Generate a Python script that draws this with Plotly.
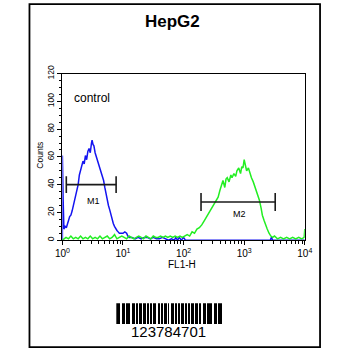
import math
import plotly.graph_objects as go

# ---------------- data ----------------
# positions are in decades of FL1-H (10**pos), counts on the y axis
blue_pos = [0.000, 0.000, 0.012, 0.025, 0.045, 0.065, 0.085, 0.100, 0.120, 0.140, 0.160, 0.180,
            0.200, 0.220, 0.240, 0.260, 0.280, 0.300, 0.320, 0.340, 0.360, 0.380, 0.400,
            0.420, 0.440, 0.460, 0.480, 0.490, 0.505, 0.520, 0.540, 0.560, 0.580, 0.600,
            0.620, 0.640, 0.660, 0.680, 0.700, 0.720, 0.740, 0.760, 0.780, 0.800, 0.820,
            0.840, 0.860, 0.880, 0.900, 0.920, 0.940, 0.970, 1.000, 1.030, 1.060, 1.080,
            1.100, 1.150, 1.200, 1.250, 1.300, 1.350, 1.400, 1.450, 1.500, 1.550, 1.600,
            1.650, 1.700, 1.750, 1.800, 1.850, 1.870, 1.900, 1.930, 1.960, 2.000, 2.030,
            2.200, 2.500, 3.000, 3.430, 3.450, 3.470, 3.700, 4.000]
blue_cnt = [0, 61, 30, 8, 10, 9, 13, 14, 17, 18, 21, 25,
            29, 33, 36, 40, 47, 50, 54, 57, 55, 61, 58,
            64, 66, 63, 70, 72, 69, 68, 63, 60, 58, 55,
            52, 49, 45, 43, 38, 33, 29, 25, 22, 18, 15,
            12, 10, 8, 7, 6, 5, 5, 5, 6, 5, 3,
            2, 2, 1, 2, 1, 2, 2, 1, 2, 1, 1,
            2, 1, 0, 1, 0, 2, 0, 2, 0, 2, 0,
            0, 0, 0, 0, 2, 0, 0, 0]

green_pos = [0.00, 0.03, 0.06, 0.10, 0.14, 0.18, 0.22, 0.26, 0.30, 0.34, 0.38, 0.42, 0.46,
             0.50, 0.54, 0.58, 0.62, 0.66, 0.70, 0.74, 0.78, 0.82, 0.86, 0.90, 0.94, 0.98,
             1.02, 1.06, 1.10, 1.14, 1.18, 1.22, 1.26, 1.30, 1.34, 1.38, 1.42, 1.46, 1.50,
             1.54, 1.58, 1.62, 1.66, 1.70, 1.74, 1.78, 1.82, 1.86, 1.90, 1.94, 1.98, 2.02,
             2.06, 2.10, 2.14, 2.18, 2.22, 2.26, 2.30, 2.34, 2.38, 2.42, 2.46, 2.50, 2.54,
             2.57, 2.60, 2.63, 2.65, 2.68, 2.70, 2.72, 2.75, 2.78, 2.80, 2.83, 2.86, 2.88,
             2.91, 2.94, 2.96, 2.98, 3.00, 3.02, 3.04, 3.07, 3.10, 3.12, 3.15, 3.18, 3.20,
             3.23, 3.25, 3.28, 3.30, 3.33, 3.35, 3.38, 3.41, 3.44, 3.47, 3.50, 3.55, 3.60,
             3.65, 3.70, 3.75, 3.80, 3.85, 3.90, 3.95, 3.99, 4.00]
green_cnt = [0, 1, 2, 1, 3, 1, 2, 1, 3, 1, 2, 1, 3,
             1, 2, 1, 3, 1, 2, 3, 1, 2, 4, 1, 2, 3,
             2, 1, 3, 2, 1, 2, 3, 2, 1, 3, 2, 1, 3,
             2, 2, 3, 2, 3, 2, 3, 2, 3, 2, 3, 2, 3,
             4, 3, 6, 5, 8, 9, 11, 14, 17, 19, 23, 25, 28,
             31, 36, 41, 43, 38, 44, 45, 42, 47, 45, 48, 46, 50,
             52, 48, 53, 52, 58, 54, 50, 52, 47, 45, 42, 38, 36,
             32, 29, 23, 18, 14, 11, 8, 5, 3, 2, 3, 1, 2,
             1, 2, 1, 2, 1, 2, 1, 2, 8]

# gate markers: (low, high, level, cap half-height)
m1_gate = [1.16, 7.7, 40, 6]
m2_gate = [194, 3250, 27.5, 6.5]
m1_label = [3.2, 28.5]
m2_label = [850, 19]
control_label = [1.42, 102.5]

x_ticks = [1, 10, 100, 1000, 10000]
x_ticktext = ["10<sup>0</sup>", "10<sup>1</sup>", "10<sup>2</sup>", "10<sup>3</sup>", "10<sup>4</sup>"]
y_ticks = [0, 20, 40, 60, 80, 100, 120]

barcode_text = "123784701"
barcode_modules = ("11010011100" "10110011100" "10011001110" "11001011100" "11101101110"
                   "10011100110" "11011100100" "10111011110" "11001110010" "1100011101011")

# ---------------- figure ----------------
W = H = 350
FONT = "Liberation Sans, Arial, sans-serif"


def px_x(p):
    return p / W


def px_y(p):
    return 1 - p / H


fig = go.Figure()

fig.add_trace(go.Scatter(x=[10 ** p for p in blue_pos], y=blue_cnt, mode="lines",
                         line=dict(color="#1414f0", width=1.5), hoverinfo="skip"))
fig.add_trace(go.Scatter(x=[10 ** p for p in green_pos], y=green_cnt, mode="lines",
                         line=dict(color="#22ee22", width=1.5), hoverinfo="skip"))

for lo, hi, lvl, cap in (m1_gate, m2_gate):
    gx = [lo, hi, None, lo, lo, None, hi, hi]
    gy = [lvl, lvl, None, lvl - cap, lvl + cap, None, lvl - cap, lvl + cap]
    fig.add_trace(go.Scatter(x=gx, y=gy, mode="lines", line=dict(color="#1a1a1a", width=1.6),
                             hoverinfo="skip"))

# barcode via its own hidden axes
runs_x, runs_w = [], []
i = 0
while i < len(barcode_modules):
    if barcode_modules[i] == "1":
        j = i
        while j < len(barcode_modules) and barcode_modules[j] == "1":
            j += 1
        runs_x.append((i + j) / 2)
        runs_w.append(j - i)
        i = j
    else:
        i += 1
fig.add_trace(go.Bar(x=runs_x, y=[1] * len(runs_x), width=runs_w,
                     marker=dict(color="black", line=dict(width=0)),
                     xaxis="x2", yaxis="y2", hoverinfo="skip"))

fig.update_layout(
    width=W, height=H, autosize=False,
    margin=dict(l=0, r=0, t=0, b=0),
    paper_bgcolor="white", plot_bgcolor="white",
    showlegend=False,
    font=dict(family=FONT, color="black", size=9),
    xaxis=dict(type="log", range=[0, 4], domain=[px_x(57), px_x(311)], anchor="y",
               tickmode="array", tickvals=x_ticks, ticktext=x_ticktext,
               ticks="outside", ticklen=4, tickwidth=1, tickcolor="black",
               tickfont=dict(size=10, family=FONT),
               minor=dict(tickmode="array",
                          tickvals=[m * 10 ** d for d in range(4) for m in range(2, 10)],
                          ticks="outside", ticklen=3, tickwidth=1, tickcolor="black", showgrid=False),
               showline=True, linecolor="black", linewidth=1.4, mirror=True,
               showgrid=False, zeroline=False),
    yaxis=dict(range=[0, 120], domain=[px_y(238), px_y(66.5)], anchor="x",
               tickmode="array", tickvals=y_ticks, tickangle=-90,
               ticks="outside", ticklen=4, tickwidth=1, tickcolor="black",
               tickfont=dict(size=8.5, family=FONT),
               minor=dict(dtick=5, ticks="outside", ticklen=2, tickwidth=1, tickcolor="black", showgrid=False),
               showline=True, linecolor="black", linewidth=1.4, mirror=True,
               showgrid=False, zeroline=False),
    xaxis2=dict(range=[0, len(barcode_modules)], domain=[px_x(113.5), px_x(224.5)], anchor="y2",
                visible=False, fixedrange=True),
    yaxis2=dict(range=[0, 1], domain=[px_y(324.5), px_y(303)], anchor="x2",
                visible=False, fixedrange=True),
    bargap=0,
)

annotations = [
    dict(text="<b>HepG2</b>", x=px_x(172), y=px_y(13), xref="paper", yref="paper",
         showarrow=False, font=dict(size=17, family=FONT), xanchor="center", yanchor="middle"),
    dict(text="FL1-H", x=px_x(182.5), y=px_y(263.5), xref="paper", yref="paper",
         showarrow=False, font=dict(size=10, family=FONT), xanchor="center", yanchor="middle"),
    dict(text="Counts", x=px_x(33.5), y=px_y(150), xref="paper", yref="paper", textangle=-90,
         showarrow=False, font=dict(size=8.5, family=FONT), xanchor="center", yanchor="middle"),
    dict(text=barcode_text, x=px_x(168.5), y=px_y(332), xref="paper", yref="paper",
         showarrow=False, font=dict(size=15, family=FONT), xanchor="center", yanchor="middle"),
    dict(text="control", x=math.log10(control_label[0]), y=control_label[1], xref="x", yref="y",
         showarrow=False, font=dict(size=12, family=FONT), xanchor="left", yanchor="middle"),
    dict(text="M1", x=math.log10(m1_label[0]), y=m1_label[1], xref="x", yref="y",
         showarrow=False, font=dict(size=9, family=FONT), xanchor="center", yanchor="middle"),
    dict(text="M2", x=math.log10(m2_label[0]), y=m2_label[1], xref="x", yref="y",
         showarrow=False, font=dict(size=9, family=FONT), xanchor="center", yanchor="middle"),
]
fig.update_layout(annotations=annotations)

fig.add_shape(type="rect", xref="paper", yref="paper",
              x0=px_x(22.5), x1=px_x(327), y0=px_y(348), y1=px_y(-5),
              line=dict(color="black", width=1.8), fillcolor="rgba(0,0,0,0)", layer="below")

fig.write_html("out.html")
